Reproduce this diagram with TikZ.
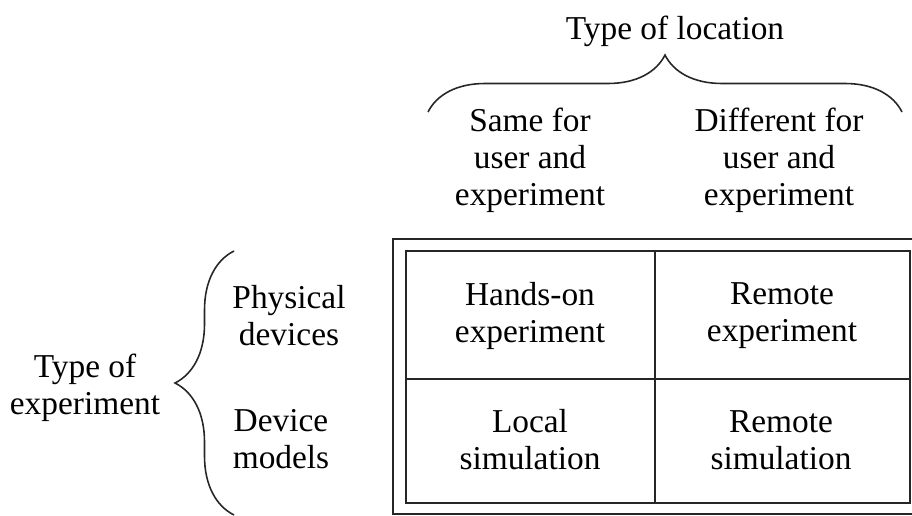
\documentclass[tikz,border=0pt]{standalone}
\usepackage{fontspec}
\setmainfont{Liberation Serif}
\usepackage{tikz}
\usetikzlibrary{positioning,decorations.pathreplacing}

\begin{document}
\begin{tikzpicture}[x=0.02cm,y=-0.02cm,
	lbl/.style={align=center,inner sep=0pt,font={\fontsize{19}{21}\selectfont}},
	rule/.style={line width=0.9pt,draw=black!85}]
	\useasboundingbox (0,0) rectangle (912,516);
	\clip (0,0) rectangle (912,516);
	
	% draw table
	\draw[rule] (393,239) rectangle (924,514);
	\draw[rule] (406,251) rectangle (910,503);
	\draw[rule] (655,251) -- (655,503);
	\draw[rule] (406,379) -- (910,379);
	
	% draw nodes
	\node[lbl] (loc)   at (675,31)  {Type of location};
	\node[lbl] (same)  at (530,160) {Same for\\user and\\experiment};
	\node[lbl] (diff)  at (779,160) {Different for\\user and\\experiment};
	\node[lbl] (exp)   at (85,388)  {Type of\\experiment};
	\node[lbl] (phys)  at (289,316) {Physical\\devices};
	\node[lbl] (model) at (281,439) {Device\\models};
	\node[lbl] (hands) at (530,316) {Hands-on\\experiment};
	\node[lbl] (rexp)  at (782,316) {Remote\\experiment};
	\node[lbl] (local) at (530,440) {Local\\simulation};
	\node[lbl] (rsim)  at (781,440) {Remote\\simulation};
	
	%%%braces
	\coordinate (lt) at (428,112);
	\coordinate (rt) at (902,112);
	\draw [rule,decorate,decoration={brace,amplitude=1.14cm}] (lt) -- (rt);
	
	\coordinate (bt) at (234,515);
	\coordinate (tp) at (234,251);
	\draw [rule,decorate,decoration={brace,amplitude=1.18cm}] (bt) -- (tp);
	
\end{tikzpicture}
\end{document}
